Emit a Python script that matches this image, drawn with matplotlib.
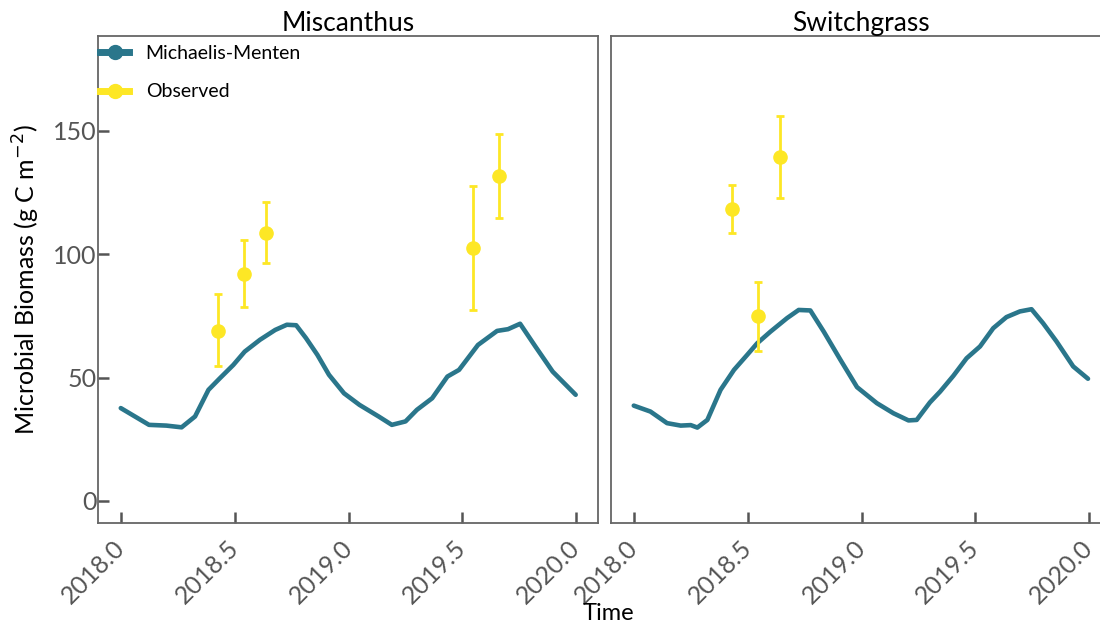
import numpy as np
import matplotlib
matplotlib.use("Agg")
import matplotlib.pyplot as plt
from matplotlib.lines import Line2D

plt.rcParams['font.family'] = ['Lato', 'DejaVu Sans']

# modelled microbial biomass (Michaelis-Menten), g C m-2
misc_t = [2018.0, 2018.124, 2018.2, 2018.267, 2018.326, 2018.385, 2018.435, 2018.494,
          2018.544, 2018.611, 2018.678, 2018.729, 2018.77, 2018.813, 2018.863, 2018.914,
          2018.98, 2019.048, 2019.132, 2019.19, 2019.25, 2019.3, 2019.367, 2019.434,
          2019.485, 2019.568, 2019.652, 2019.70, 2019.753, 2019.82, 2019.896, 2019.997]
misc_mm = [37.6, 30.8, 30.5, 29.8, 34.2, 45.0, 49.7, 55.1,
           60.5, 65.3, 69.3, 71.4, 71.2, 66.0, 59.2, 51.1,
           43.6, 38.9, 34.2, 30.8, 32.2, 36.9, 41.6, 50.4,
           53.1, 63.2, 68.9, 69.6, 71.8, 62.6, 52.4, 43.0]

switch_t = [2018.0, 2018.073, 2018.146, 2018.206, 2018.25, 2018.279, 2018.323, 2018.381,
            2018.44, 2018.498, 2018.542, 2018.6, 2018.673, 2018.724, 2018.775, 2018.834,
            2018.907, 2018.98, 2019.067, 2019.14, 2019.206, 2019.242, 2019.3, 2019.345,
            2019.403, 2019.461, 2019.52, 2019.578, 2019.636, 2019.695, 2019.746, 2019.797,
            2019.856, 2019.929, 2019.994]
switch_mm = [38.6, 36.2, 31.5, 30.5, 30.7, 29.7, 32.8, 45.0,
             53.1, 59.2, 63.9, 68.6, 74.1, 77.4, 77.2, 68.6,
             57.2, 46.1, 39.6, 35.5, 32.6, 32.8, 39.9, 44.3,
             50.7, 57.8, 62.6, 70.0, 74.5, 76.8, 77.7, 72.0,
             64.6, 54.5, 49.5]

# observations: mean and error bar limits
misc_obs_t = [2018.426, 2018.540, 2018.637, 2019.545, 2019.660]
misc_obs = [68.9, 92.1, 108.6, 102.5, 131.9]
misc_obs_lo = [54.5, 78.8, 96.4, 77.5, 114.8]
misc_obs_hi = [83.8, 105.6, 121.1, 127.7, 148.9]

switch_obs_t = [2018.43, 2018.544, 2018.64]
switch_obs = [118.3, 74.9, 139.6]
switch_obs_lo = [108.8, 60.9, 122.9]
switch_obs_hi = [128.0, 88.9, 156.2]

teal = '#2a768b'
yellow = '#fde725'

fig = plt.figure(figsize=(11, 6.25), dpi=100)
ax1 = fig.add_axes([98 / 1100, 102 / 625, 500 / 1100, 487 / 625])
ax2 = fig.add_axes([611 / 1100, 102 / 625, 500 / 1100, 487 / 625])

panels = [(ax1, 'Miscanthus', misc_t, misc_mm, misc_obs_t, misc_obs, misc_obs_lo, misc_obs_hi),
          (ax2, 'Switchgrass', switch_t, switch_mm, switch_obs_t, switch_obs, switch_obs_lo, switch_obs_hi)]

for ax, name, t, mm, ot, ob, lo, hi in panels:
    ax.plot(t, mm, color=teal, lw=3.3, solid_capstyle='round', solid_joinstyle='round')
    ob = np.array(ob)
    yerr = [ob - np.array(lo), np.array(hi) - ob]
    ax.errorbar(ot, ob, yerr=yerr, fmt='o', color=yellow, ms=9.5, elinewidth=2,
                capsize=3, capthick=2)
    ax.set_xlim(2017.9, 2020.095)
    ax.set_ylim(-9, 188.5)
    ax.set_xticks([2018.0, 2018.5, 2019.0, 2019.5, 2020.0])
    ax.set_xticklabels(['2018.0', '2018.5', '2019.0', '2019.5', '2020.0'],
                       rotation=45, ha='right', va='center', rotation_mode='anchor')
    ax.tick_params(direction='in', length=8, width=1.8, colors='#555555',
                   labelsize=18)
    ax.tick_params(axis='x', pad=15)
    for s in ax.spines.values():
        s.set_color('#666666')
        s.set_linewidth(1.3)
    ax.set_title(name, fontsize=19, pad=2)

ax1.set_yticks([0, 50, 100, 150])
ax1.tick_params(axis='y', pad=1)
ax2.set_yticks([])

ax1.set_ylabel('Microbial Biomass (g C m$^{-2}$)', fontsize=18, labelpad=8)
fig.text(608 / 1100, 1 / 625, 'Time', fontsize=17, ha='center', va='bottom')

handles = [Line2D([], [], color=teal, lw=5, marker='o', ms=10),
           Line2D([], [], color=yellow, lw=5, marker='o', ms=10)]
ax1.legend(handles, ['Michaelis-Menten', 'Observed'], loc='upper left',
           bbox_to_anchor=(100 / 1100, 1 - 45 / 625), bbox_transform=fig.transFigure,
           frameon=False, fontsize=14, handlelength=1.5, handletextpad=0.85,
           labelspacing=1.1, borderaxespad=0, borderpad=0)

fig.savefig('out.png', dpi=100)
